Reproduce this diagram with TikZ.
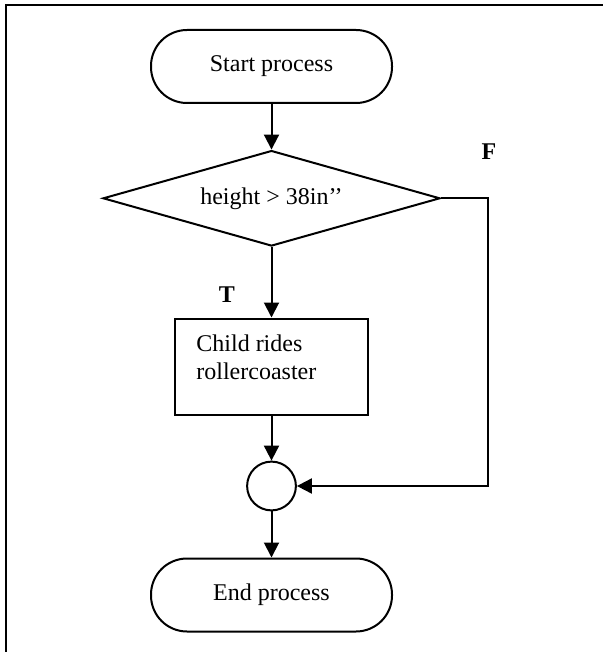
\documentclass[tikz,border=0pt]{standalone}
\usepackage{fontspec}
\setmainfont{Liberation Serif}
\usetikzlibrary{shapes.geometric,arrows.meta}
\begin{document}
\begin{tikzpicture}[x=0.5pt,y=-0.5pt,
  every node/.style={font=\fontsize{12pt}{14pt}\selectfont},
  terminal/.style={draw,line width=1pt,rectangle,rounded corners=18pt,minimum width=120.5pt,minimum height=36.5pt,inner sep=0pt},
  decision/.style={draw,line width=1pt,diamond,shape aspect=3.5,minimum width=168.5pt,minimum height=47.75pt,inner sep=0pt},
  process/.style={draw,line width=1pt,rectangle,minimum width=96.5pt,minimum height=48pt,inner sep=0pt},
  junction/.style={draw,line width=1pt,circle,minimum size=24.4pt,inner sep=0pt},
  flow/.style={line width=1pt,-{Triangle[length=7.5pt,width=7.5pt]}},
  branch/.style={font=\fontsize{12pt}{14pt}\selectfont\bfseries},
  frame/.style={line width=1.2pt}]
\useasboundingbox (0,0) rectangle (603,652);
\draw[frame] (6,652) -- (6,5) -- (603,5);
\node[terminal] (start) at (271.5,66.5) {Start process};
\node[decision] (dec) at (271.5,198.3) {height > 38in’’};
\node[process] (ride) at (271.5,366.5) {};
\node[anchor=north west,align=left,inner sep=0pt] (ridetext) at (196,334) {Child rides\\rollercoaster};
\node[junction] (join) at (271.5,486) {};
\node[terminal] (end) at (271.5,595) {End process};
\node[branch] (F) at (489,152) {F};
\node[branch] (T) at (227,295) {T};
\coordinate (fc1) at (487.7,198.3);
\coordinate (fc2) at (487.7,486);
\draw[flow] (start) -- (dec);
\draw[flow] (dec) -- (ride);
\draw[flow] (ride) -- (join);
\draw[flow] (join) -- (end);
\draw[flow] (dec.east) -- (fc1) -- (fc2) -- (join);
\end{tikzpicture}
\end{document}
